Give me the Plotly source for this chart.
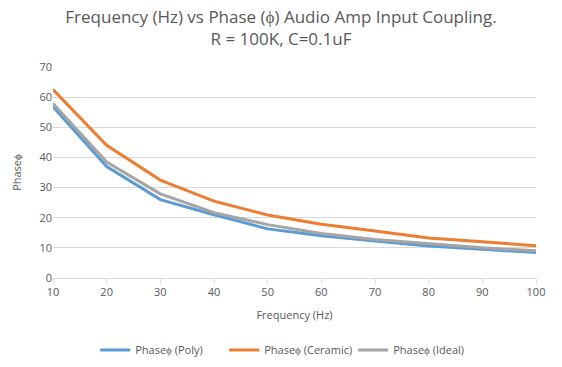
import plotly.graph_objects as go

freq = [10, 20, 30, 40, 50, 60, 70, 80, 90, 100]
phase_poly = [56.8, 37.0, 26.0, 21.0, 16.3, 14.0, 12.3, 10.6, 9.5, 8.5]
phase_ceramic = [62.5, 44.0, 32.5, 25.5, 20.9, 17.8, 15.6, 13.3, 12.0, 10.7]
phase_ideal = [57.9, 38.5, 27.9, 21.7, 17.7, 14.8, 12.8, 11.3, 10.0, 9.0]

font = "Open Sans"
tick_color = "#595959"

fig = go.Figure()
for name, vals, color in [
    ("Phase\u03d5 (Poly)", phase_poly, "#5B9BD5"),
    ("Phase\u03d5 (Ceramic)", phase_ceramic, "#ED7D31"),
    ("Phase\u03d5 (Ideal)", phase_ideal, "#A5A5A5"),
]:
    fig.add_trace(go.Scatter(x=freq, y=vals, mode="lines", name=name,
                             line=dict(color=color, width=3)))

fig.update_layout(
    width=562, height=367,
    margin=dict(l=53, r=26, t=67, b=89, autoexpand=False),
    paper_bgcolor="white", plot_bgcolor="white",
    font=dict(family=font, color=tick_color, size=11),
    title=dict(text="Frequency (Hz) vs Phase (\u03d5) Audio Amp Input Coupling.<br>R = 100K, C=0.1uF",
               x=0.5, xanchor="center", yref="container", y=0.937, yanchor="middle",
               font=dict(size=17, color="#595959", family=font)),
    showlegend=True,
    legend=dict(orientation="h", x=0.488, xanchor="center", yref="container", y=0.046, yanchor="middle",
                font=dict(size=11, color=tick_color), itemwidth=30,
                entrywidth=84, entrywidthmode="pixels"),
    xaxis=dict(range=[10, 100], tickvals=freq, ticks="outside", ticklen=4,
               tickcolor="#D9D9D9", showline=True, linecolor="#D9D9D9",
               showgrid=False, zeroline=False, automargin=False,
               title=dict(text="Frequency (Hz)", font=dict(size=11, color=tick_color), standoff=13)),
    yaxis=dict(range=[0, 70], dtick=10, showgrid=True, gridcolor="#D9D9D9",
               zeroline=False, showline=False, automargin=False,
               title=dict(text="Phase\u03d5", font=dict(size=11, color=tick_color), standoff=15)),
)

fig.write_html("out.html", config={"displayModeBar": False},
               post_script="document.body.style.margin='0px';")
